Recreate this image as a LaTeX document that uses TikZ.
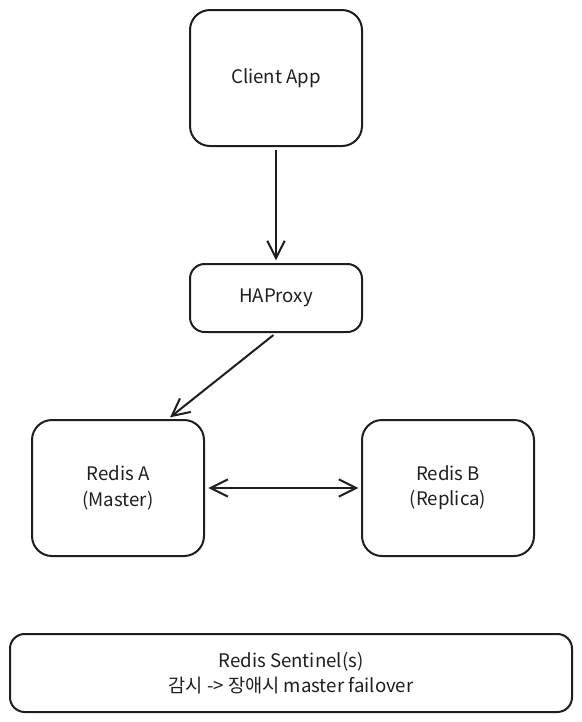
\documentclass[tikz,border=0pt]{standalone}
\usepackage{fontspec}
\setmainfont{Noto Sans CJK KR}
\usetikzlibrary{arrows.meta,positioning}
\definecolor{ink}{HTML}{1E1E1E}

\begin{document}
\begin{tikzpicture}[x=0.75pt, y=-0.75pt, >={Straight Barb[length=13pt,width=13pt]}, node distance=87pt]
    \tikzstyle{box}=[draw=ink, line width=1.5pt, rounded corners=15pt, align=center, text=ink, font=\fontsize{14}{19}\selectfont, minimum width=129pt, minimum height=102pt]
    \tikzstyle{link}=[draw=ink, line width=1.5pt, shorten <=2.5pt, shorten >=2pt]
    \useasboundingbox (0,0) rectangle (582,722);

    \node[box] (client) at (276,78) {Client App};
    \node[box, minimum height=51pt, rounded corners=11pt, below=of client] (haproxy) {HAProxy};
    \node[box] (redisA) at (118,488) {Redis A\\(Master)};
    \node[box, right=117pt of redisA] (redisB) {Redis B\\(Replica)};
    \node[box, minimum width=421.5pt, minimum height=58.5pt, rounded corners=11pt] (sentinel) at (291,673) {Redis Sentinel(s)\\감시 -> 장애시 master failover};

    \draw[link, ->] (client) -- (haproxy);
    \draw[link, ->] (haproxy.south) -- ([xshift=37.5pt]redisA.north);
    \draw[link, <->] (redisA) -- (redisB);
\end{tikzpicture}
\end{document}
